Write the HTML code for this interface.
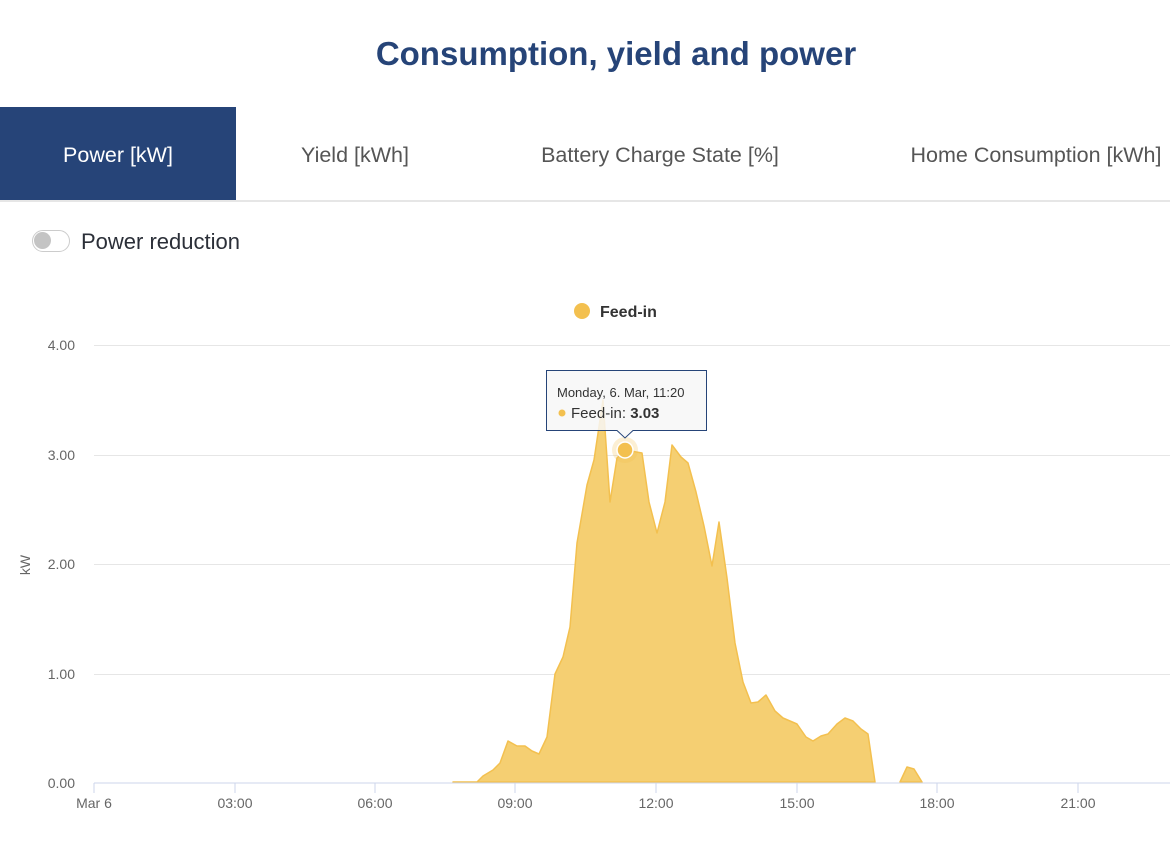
<!DOCTYPE html>
<html><head><meta charset="utf-8"><style>
body{margin:0;width:1170px;height:859px;background:#fff;font-family:"Liberation Sans",sans-serif;overflow:hidden;position:relative}
.t{position:absolute;left:0;width:1232px;text-align:center;top:35px;font-size:33px;font-weight:bold;color:#264478}
.tabs{position:absolute;top:107px;left:0;width:1170px;height:93px;border-bottom:2px solid #e6e6e6}
.tab{position:absolute;top:0;height:93px;line-height:97px;font-size:21.5px;color:#555;text-align:center;white-space:nowrap}
</style></head><body>
<div class="t">Consumption, yield and power</div>
<div class="tabs">
<div class="tab" style="left:0;width:236px;background:#264478;color:#fff">Power [kW]</div>
<div class="tab" style="left:236px;width:238px">Yield [kWh]</div>
<div class="tab" style="left:474px;width:372px">Battery Charge State [%]</div>
<div class="tab" style="left:846px;width:380px">Home Consumption [kWh]</div>
</div>
<div style="position:absolute;left:32px;top:230px;width:36px;height:20px;border:1px solid #ccc;border-radius:11px;background:#fff"></div>
<div style="position:absolute;left:34px;top:232px;width:17px;height:17px;border-radius:50%;background:#c4c4c4"></div>
<div style="position:absolute;left:81px;top:229px;font-size:22px;color:#2b2f38">Power reduction</div>
<svg width="1170" height="859" style="position:absolute;left:0;top:0" font-family="Liberation Sans, sans-serif">
<circle cx="582" cy="311" r="8" fill="#f3c04f"/>
<text x="600" y="317" font-size="16" font-weight="bold" fill="#333">Feed-in</text>
<g stroke="#e6e6e6" stroke-width="1">
<line x1="94" y1="345.5" x2="1170" y2="345.5"/><line x1="94" y1="455.5" x2="1170" y2="455.5"/>
<line x1="94" y1="564.5" x2="1170" y2="564.5"/><line x1="94" y1="674.5" x2="1170" y2="674.5"/>
</g>
<g font-size="14" fill="#666" text-anchor="end">
<text x="75" y="350">4.00</text><text x="75" y="460">3.00</text><text x="75" y="569">2.00</text><text x="75" y="679">1.00</text><text x="75" y="788">0.00</text>
</g>
<text transform="translate(30,565) rotate(-90)" font-size="14" fill="#666" text-anchor="middle">kW</text>
<path d="M453,782 L477,782 483,776 493,770 500,763 508,741 517,746 525,746 532,751 539,754 547,737 555,674 563,657 570,627 577,543 587,485 594,460 603,400 610,502 617,458 625,450 642,453 649,502 657,533 665,502 672,445 681,457 688,463 696,492 704,526 712,566 719,522 727,578 735,643 743,682 751,703 758,702 766,695 775,711 783,718 797,724 806,737 813,741 821,736 828,734 837,724 845,718 853,721 861,729 868,734 875,782 Z M900,782 L907,767 914,769 922,782 Z" fill="#f5cf72" stroke="#f3c04f" stroke-width="1.5" stroke-linejoin="round"/>
<line x1="94" y1="783" x2="1170" y2="783" stroke="#ccd6eb"/>
<g stroke="#ccd6eb"><line x1="94" y1="783" x2="94" y2="793"/><line x1="235" y1="783" x2="235" y2="793"/><line x1="375" y1="783" x2="375" y2="793"/><line x1="515" y1="783" x2="515" y2="793"/><line x1="656" y1="783" x2="656" y2="793"/><line x1="797" y1="783" x2="797" y2="793"/><line x1="937" y1="783" x2="937" y2="793"/><line x1="1078" y1="783" x2="1078" y2="793"/></g>
<g font-size="14" fill="#666" text-anchor="middle">
<text x="94" y="808">Mar 6</text><text x="235" y="808">03:00</text><text x="375" y="808">06:00</text><text x="515" y="808">09:00</text><text x="656" y="808">12:00</text><text x="797" y="808">15:00</text><text x="937" y="808">18:00</text><text x="1078" y="808">21:00</text>
</g>
<circle cx="625" cy="450" r="13" fill="#f3c04f" opacity="0.25"/>
<circle cx="625" cy="450" r="8" fill="#f3c04f" stroke="#fff" stroke-width="1.5"/>
<path d="M546.5,370.5 H706.5 V430.5 H633 L625,438 L617,430.5 H546.5 Z" fill="#f7f7f7" fill-opacity="0.85" stroke="#264478" stroke-width="1"/>
<text x="557" y="397" font-size="13" fill="#333">Monday, 6. Mar, 11:20</text>
<circle cx="562" cy="413" r="3.5" fill="#f3c04f"/>
<text x="571" y="418" font-size="15" fill="#333">Feed-in: <tspan font-weight="bold">3.03</tspan></text>
</svg>
</body></html>
